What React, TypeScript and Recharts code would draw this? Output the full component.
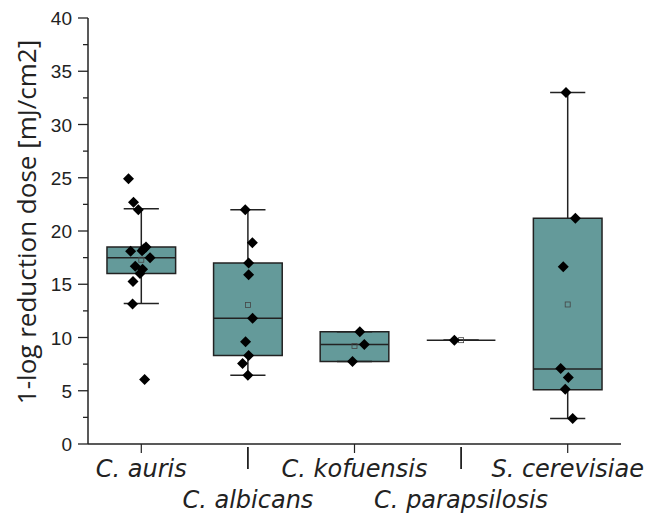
import React from 'react';
import {
  ComposedChart,
  Scatter,
  XAxis,
  YAxis,
  ReferenceArea,
  ReferenceLine,
  Label
} from 'recharts';

const categories = ['C. auris', 'C. albicans', 'C. kofuensis', 'C. parapsilosis', 'S. cerevisiae'];

// box statistics
const whiskerLow = [13.2, 6.45, 7.75, 9.75, 2.4];
const q1 = [16.0, 8.3, 7.75, 9.75, 5.1];
const medians = [17.5, 11.8, 9.35, 9.75, 7.05];
const q3 = [18.5, 17.0, 10.55, 9.75, 21.2];
const whiskerHigh = [22.1, 22.0, 10.55, 9.75, 33.0];
const means = [17.3, 13.05, 9.2, 9.75, 13.1];

// raw measurements, with the horizontal jitter used in the figure
const aurisValues = [24.9, 22.7, 22.0, 18.5, 18.3, 18.15, 18.1, 17.5, 16.7, 16.4, 16.0, 15.25, 13.15, 6.05];
const aurisJitter = [-0.12, -0.073, -0.028, 0.044, 0.022, 0.007, -0.1, 0.082, -0.057, 0.012, -0.012, -0.078, -0.082, 0.031];
const albicansValues = [22.0, 18.9, 17.0, 15.9, 11.8, 9.6, 8.3, 7.55, 6.45];
const albicansJitter = [-0.025, 0.042, 0.007, 0.007, 0.044, -0.022, 0.007, -0.05, 0];
const kofuensisValues = [10.55, 9.35, 7.75];
const kofuensisJitter = [0.05, 0.092, -0.019];
const parapsilosisValues = [9.75];
const parapsilosisJitter = [-0.063];
const cerevisiaeValues = [33.0, 21.2, 16.65, 7.1, 6.25, 5.13, 2.4];
const cerevisiaeJitter = [-0.016, 0.072, -0.042, -0.066, 0.006, -0.023, 0.047];

const yTicks = [0, 2.5, 5, 7.5, 10, 12.5, 15, 17.5, 20, 22.5, 25, 27.5, 30, 32.5, 35, 37.5, 40];

const BOX_HALF = 0.322;
const CAP_HALF = 0.165;
const BOX_FILL = '#649a9a';
const INK = '#222';

const groups = [
  [aurisValues, aurisJitter],
  [albicansValues, albicansJitter],
  [kofuensisValues, kofuensisJitter],
  [parapsilosisValues, parapsilosisJitter],
  [cerevisiaeValues, cerevisiaeJitter]
];

const pointData = groups.flatMap(([vals, jit], i) =>
  vals.map((v, j) => ({ x: i + jit[j], y: v }))
);
const meanData = means.map((m, i) => ({ x: i, y: m }));

const Diamond = (props: any) => {
  const { cx, cy } = props;
  const r = 5.5;
  return <path d={`M${cx},${cy - r}L${cx + r},${cy}L${cx},${cy + r}L${cx - r},${cy}Z`} fill="#000" />;
};

const MeanSquare = (props: any) => {
  const { cx, cy } = props;
  return <rect x={cx - 2.5} y={cy - 2.5} width={5} height={5} fill="none" stroke="#444" strokeWidth={0.8} />;
};

const YTick = (props: any) => {
  const { x, y, payload } = props;
  const major = payload.value % 5 === 0;
  const ax = x + 16;
  return (
    <g>
      <line x1={ax - (major ? 10 : 5)} y1={y} x2={ax} y2={y} stroke={INK} strokeWidth={1.3} />
      {major && (
        <text x={x} y={y} dy={7} textAnchor="end" fontSize={19} fontFamily="'Liberation Sans', Arial, sans-serif" fill={INK}>
          {payload.value}
        </text>
      )}
    </g>
  );
};

const XTick = (props: any) => {
  const { x, y, payload } = props;
  const idx = Math.round(payload.value);
  const second = idx % 2 === 1;
  return (
    <g>
      {second ? (
        <line x1={x} y1={y + 3} x2={x} y2={y + 25} stroke={INK} strokeWidth={1.8} />
      ) : (
        <line x1={x} y1={y} x2={x} y2={y + 9} stroke={INK} strokeWidth={1.2} />
      )}
      <text
        x={x}
        y={y + (second ? 64 : 33)}
        textAnchor="middle"
        fontSize={24}
        fontStyle="italic"
        fontFamily="'DejaVu Sans', sans-serif"
        fill={INK}
      >
        {categories[idx]}
      </text>
    </g>
  );
};

const YTitle = (props: any) => {
  const { viewBox } = props;
  const cx = 26;
  const cy = viewBox.y + viewBox.height / 2 - 9;
  return (
    <text
      x={cx}
      y={cy}
      transform={`rotate(-90, ${cx}, ${cy})`}
      textAnchor="middle"
      dominantBaseline="central"
      fontSize={26}
      fontFamily="'Open Sans', sans-serif"
      fill={INK}
    >
      1-log reduction dose [mJ/cm2]
    </text>
  );
};

export default function App() {
  return (
    <div style={{ position: 'fixed', left: 0, top: 0, background: '#fff' }}>
      <ComposedChart width={645} height={515} margin={{ top: 18, right: 24, bottom: 1, left: 0 }}>
        <XAxis
          type="number"
          dataKey="x"
          domain={[-0.5, 4.5]}
          ticks={[0, 1, 2, 3, 4]}
          height={70}
          tickLine={false}
          tickSize={0}
          tickMargin={0}
          tick={<XTick />}
          axisLine={{ stroke: INK, strokeWidth: 1.5 }}
          allowDataOverflow
        />
        <YAxis
          type="number"
          dataKey="y"
          domain={[0, 40]}
          ticks={yTicks}
          width={88}
          tickLine={false}
          tickSize={0}
          tickMargin={16}
          tick={<YTick />}
          axisLine={{ stroke: INK, strokeWidth: 1.5 }}
          interval={0}
        >
          <Label content={<YTitle />} />
        </YAxis>

        {categories.map((c, i) => (
          <ReferenceLine
            key={'wu' + c}
            segment={[{ x: i, y: q3[i] }, { x: i, y: whiskerHigh[i] }]}
            stroke={INK}
            strokeWidth={1.5}
          />
        ))}
        {categories.map((c, i) => (
          <ReferenceLine
            key={'wl' + c}
            segment={[{ x: i, y: whiskerLow[i] }, { x: i, y: q1[i] }]}
            stroke={INK}
            strokeWidth={1.5}
          />
        ))}
        {categories.map((c, i) => (
          <ReferenceLine
            key={'ch' + c}
            segment={[{ x: i - CAP_HALF, y: whiskerHigh[i] }, { x: i + CAP_HALF, y: whiskerHigh[i] }]}
            stroke={INK}
            strokeWidth={1.5}
          />
        ))}
        {categories.map((c, i) => (
          <ReferenceLine
            key={'cl' + c}
            segment={[{ x: i - CAP_HALF, y: whiskerLow[i] }, { x: i + CAP_HALF, y: whiskerLow[i] }]}
            stroke={INK}
            strokeWidth={1.5}
          />
        ))}
        {categories.map((c, i) => (
          <ReferenceArea
            key={'box' + c}
            x1={i - BOX_HALF}
            x2={i + BOX_HALF}
            y1={q1[i]}
            y2={q3[i]}
            fill={BOX_FILL}
            fillOpacity={1}
            stroke={INK}
            strokeWidth={1.5}
          />
        ))}
        {categories.map((c, i) => (
          <ReferenceLine
            key={'med' + c}
            segment={[{ x: i - BOX_HALF, y: medians[i] }, { x: i + BOX_HALF, y: medians[i] }]}
            stroke={INK}
            strokeWidth={1.5}
          />
        ))}

        <Scatter data={meanData} shape={<MeanSquare />} isAnimationActive={false} />
        <Scatter data={pointData} shape={<Diamond />} isAnimationActive={false} />
      </ComposedChart>
    </div>
  );
}
